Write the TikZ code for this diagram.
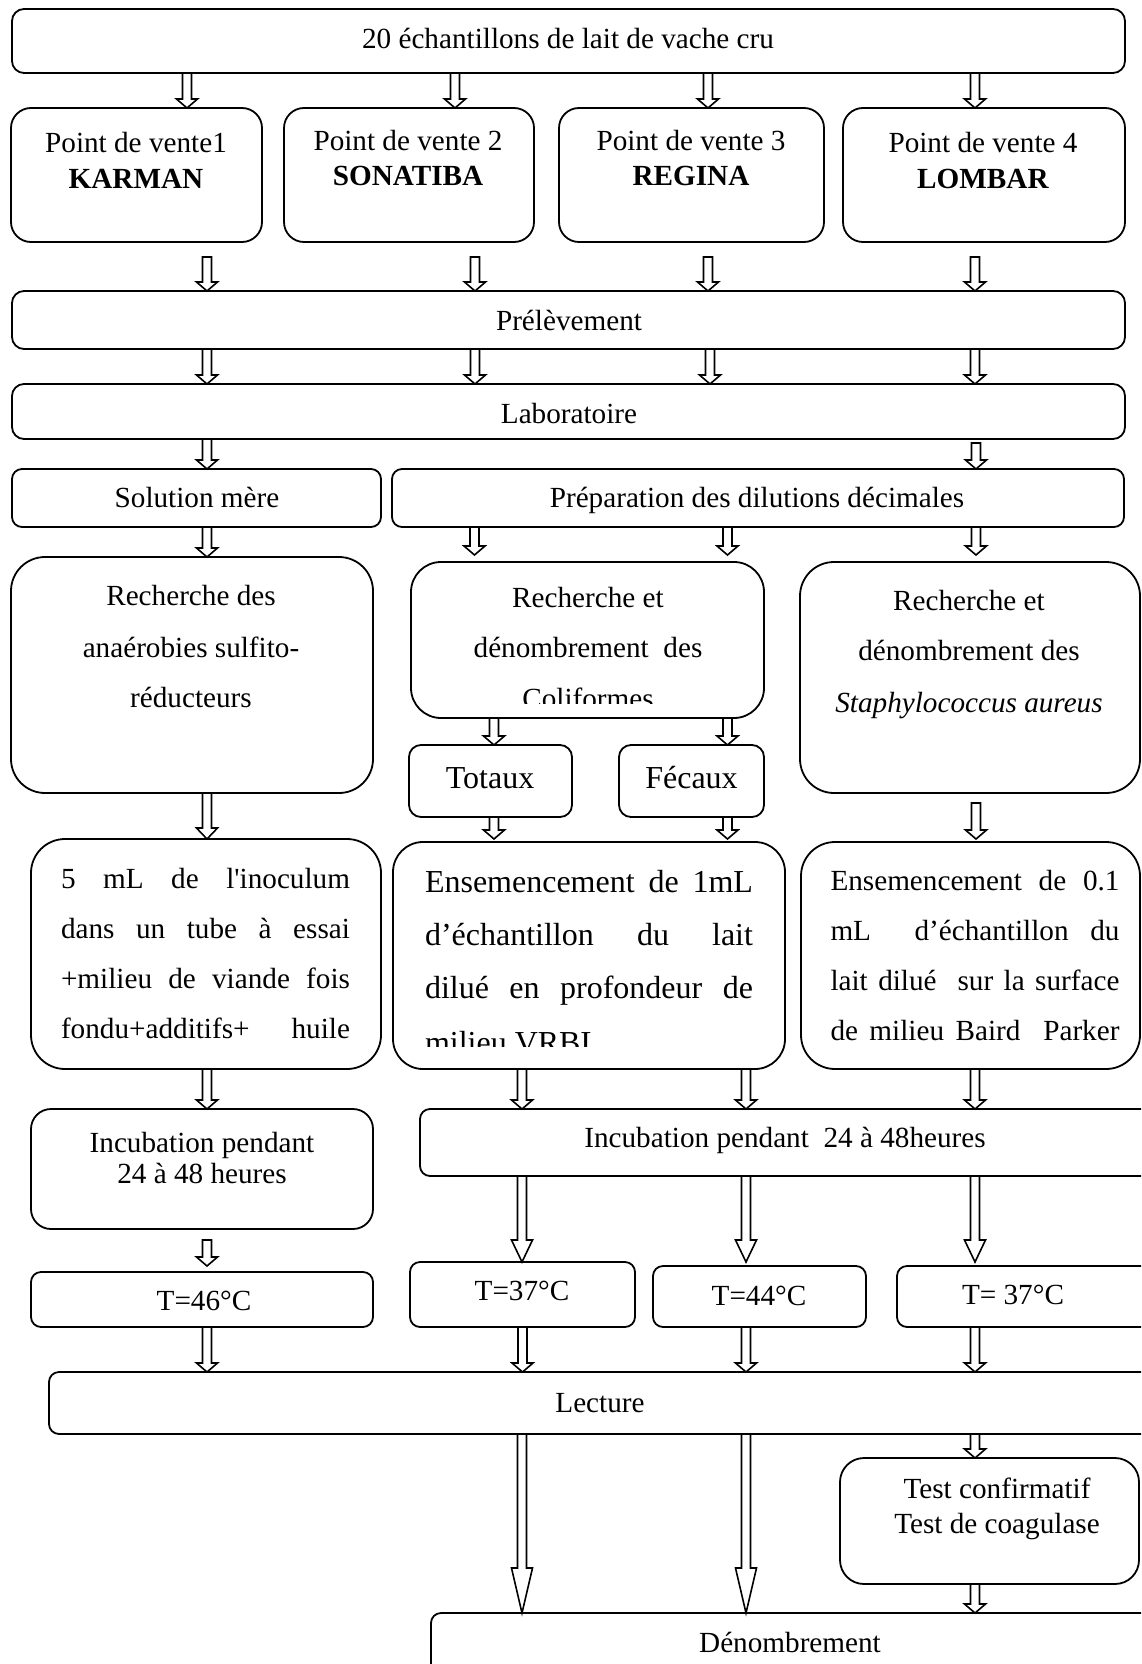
\documentclass[tikz,border=0pt]{standalone}
\usepackage{fontspec}
\setmainfont{Liberation Serif}
\usetikzlibrary{calc}
\tikzset{
  box/.style={draw, line width=0.9pt, inner sep=0pt, outer sep=0pt},
  lbl/.style={anchor=base, inner sep=0pt, outer sep=0pt, font=\fontsize{14.6}{17}\selectfont},
  lblL/.style={anchor=base west, inner sep=0pt, outer sep=0pt, font=\fontsize{14.6}{17}\selectfont},
  big/.style={font=\fontsize{16}{19}\selectfont},
  arr/.style={line width=0.8pt, line join=miter},
}
% box: name, x1, y1, x2, y2 (px), corner radius (pt)
\newcommand{\bx}[6]{\node[box, rounded corners=#6, minimum width={(#4-#2)*0.5pt}, minimum height={(#5-#3)*0.5pt}] (#1) at ({(#2+#4)/2},{(#3+#5)/2}) {};}
% hollow block arrow: from, to, x (px), start gap (px), end gap (px), head length (px)
\newcommand{\flow}[6]{%
  \draw[arr] let \p1=(#1.south -| #3,0), \p2=(#2.north -| #3,0) in
    (\x1-2.25pt,\y1-#4*0.5pt) -- (\x1-2.25pt,\y2+#5*0.5pt+#6*0.5pt) -- (\x1-5.25pt,\y2+#5*0.5pt+#6*0.5pt) -- (\x1,\y2+#5*0.5pt) -- (\x1+5.25pt,\y2+#5*0.5pt+#6*0.5pt) -- (\x1+2.25pt,\y2+#5*0.5pt+#6*0.5pt) -- (\x1+2.25pt,\y1-#4*0.5pt) -- cycle;}
\begin{document}
\begin{tikzpicture}[x=0.5pt,y=-0.5pt]
\useasboundingbox (0,0) rectangle (1141,1664);
\clip (0,0) rectangle (1141,1664);
\fill[white] (0,0) rectangle (1141,1664);
% boxes
\bx{top}{12}{9}{1125}{73}{6pt}
\bx{pdv1}{11}{108}{262}{242}{10pt}
\bx{pdv2}{284}{108}{534}{242}{10pt}
\bx{pdv3}{559}{108}{824}{242}{10pt}
\bx{pdv4}{843}{108}{1125}{242}{10pt}
\bx{prel}{12}{291}{1125}{349}{6pt}
\bx{labo}{12}{384}{1125}{439}{6pt}
\bx{solm}{12}{469}{381}{527}{5pt}
\bx{prep}{392}{469}{1124}{527}{5pt}
\bx{rana}{11}{557}{373}{793}{17pt}
\bx{rcol}{411}{562}{764}{718}{15pt}
\bx{rsta}{800}{562}{1140}{793}{17pt}
\bx{tot}{409}{745}{572}{817}{6pt}
\bx{fec}{619}{745}{764}{817}{6pt}
\bx{ens1}{31}{839}{381}{1069}{17pt}
\bx{ens2}{393}{842}{785}{1069}{15pt}
\bx{ens3}{801}{842}{1140}{1069}{17pt}
\bx{inc1}{31}{1109}{373}{1229}{10pt}
\bx{inc2}{420}{1109}{1170}{1176}{5pt}
\bx{t46}{31}{1272}{373}{1327}{5pt}
\bx{t37}{410}{1262}{635}{1327}{5pt}
\bx{t44}{653}{1266}{866}{1327}{5pt}
\bx{t37b}{897}{1266}{1170}{1327}{5pt}
\bx{lect}{49}{1372}{1170}{1434}{5pt}
\bx{test}{840}{1458}{1139}{1584}{12pt}
\bx{deno}{431}{1613}{1170}{1720}{5pt}
% texts
\node[lbl] (t0) at (568,49) {20 échantillons de lait de vache cru};
\node[lbl] (p1a) at (136,153) {Point de vente1};
\node[lbl] (p1b) at (136,189) {\textbf{KARMAN}};
\node[lbl] (p2a) at (408,151) {Point de vente 2};
\node[lbl] (p2b) at (408,186) {\textbf{SONATIBA}};
\node[lbl] (p3a) at (691,151) {Point de vente 3};
\node[lbl] (p3b) at (691,186) {\textbf{REGINA}};
\node[lbl] (p4a) at (983,153) {Point de vente 4};
\node[lbl] (p4b) at (983,189) {\textbf{LOMBAR}};
\node[lbl] (tprel) at (569,330) {Prélèvement};
\node[lbl] (tlabo) at (569,423) {Laboratoire};
\node[lbl] (tsolm) at (197,507) {Solution mère};
\node[lbl] (tprep) at (757,507) {Préparation des dilutions décimales};
\node[lbl] (ra1) at (191,605) {Recherche des};
\node[lbl] (ra2) at (191,657) {anaérobies sulfito-};
\node[lbl] (ra3) at (191,707) {réducteurs};
\node[lbl] (rc1) at (588,607) {Recherche et};
\node[lbl] (rc2) at (588,657) {dénombrement~ des};
\begin{scope}
\clip (411,562) rectangle (764,703);
\node[lbl] (rc3) at (588,708) {Coliformes};
\end{scope}
\node[lbl] (rs1) at (969,610) {Recherche et};
\node[lbl] (rs2) at (969,660) {dénombrement des};
\node[lbl] (rs3) at (969,712) {\textit{Staphylococcus aureus}};
\node[lbl,big] (ttot) at (490,788) {Totaux};
\node[lbl,big] (tfec) at (691.5,788) {Fécaux};
\node[lblL] (e1a) at (61,888) {\makebox[144.5pt][s]{5 mL de l\textquotesingle inoculum}};
\node[lblL] (e1b) at (61,938) {\makebox[144.5pt][s]{dans un tube à essai}};
\node[lblL] (e1c) at (61,988) {\makebox[144.5pt][s]{+milieu de viande fois}};
\node[lblL] (e1d) at (61,1038) {\makebox[144.5pt][s]{fondu+additifs+ huile}};
\node[lblL,big] (e2a) at (425,892) {\makebox[164pt][s]{Ensemencement de 1mL}};
\node[lblL,big] (e2b) at (425,945) {\makebox[164pt][s]{d’échantillon du lait}};
\node[lblL,big] (e2c) at (425,998) {\makebox[164pt][s]{dilué en profondeur de}};
\begin{scope}
\clip (393,842) rectangle (785,1046);
\node[lblL,big] (e2d) at (425,1053) {milieu VRBL};
\end{scope}
\node[lblL] (e3a) at (830.5,890) {\makebox[144.5pt][s]{Ensemencement de 0.1}};
\node[lblL] (e3b) at (830.5,940) {\makebox[144.5pt][s]{mL \ d’échantillon du}};
\node[lblL] (e3c) at (830.5,990) {\makebox[144.5pt][s]{lait dilué \ sur la surface}};
\node[lblL] (e3d) at (830.5,1040) {\makebox[144.5pt][s]{de milieu Baird \ Parker}};
\node[lbl] (ti1a) at (202,1152) {Incubation pendant};
\node[lbl] (ti1b) at (202,1183) {24 à 48 heures};
\node[lbl] (ti2) at (785,1147) {Incubation pendant~ 24 à 48heures};
\node[lbl] (tt46) at (204,1310) {T=46°C};
\node[lbl] (tt37) at (522,1300) {T=37°C};
\node[lbl] (tt44) at (759,1305) {T=44°C};
\node[lbl] (tt37b) at (1013,1304) {T= 37°C};
\node[lbl] (tlect) at (600,1412) {Lecture};
\node[lbl] (ttesta) at (997,1498) {Test confirmatif};
\node[lbl] (ttestb) at (997,1533) {Test de coagulase};
\node[lbl] (tdeno) at (790,1652) {Dénombrement};
% arrows
\flow{top}{pdv1}{187}{0}{0}{9}
\flow{top}{pdv2}{455}{0}{0}{9}
\flow{top}{pdv3}{708}{0}{0}{9}
\flow{top}{pdv4}{975}{0}{0}{9}
\flow{pdv1}{prel}{207}{15}{0}{9}
\flow{pdv2}{prel}{475}{15}{0}{9}
\flow{pdv3}{prel}{708}{15}{0}{9}
\flow{pdv4}{prel}{975}{15}{0}{9}
\flow{prel}{labo}{207}{0}{0}{9}
\flow{prel}{labo}{475}{0}{0}{9}
\flow{prel}{labo}{710}{0}{0}{9}
\flow{prel}{labo}{975}{0}{0}{9}
\flow{labo}{solm}{207}{0}{0}{9}
\flow{labo}{prep}{976}{4}{0}{9}
\flow{solm}{rana}{207}{0}{0}{9}
\flow{prep}{rcol}{474.5}{0}{7}{9}
\flow{prep}{rcol}{727.5}{0}{7}{9}
\flow{prep}{rsta}{976}{0}{7}{9}
\flow{rcol}{tot}{494}{0}{0}{9}
\flow{rcol}{fec}{727.5}{0}{0}{9}
\flow{tot}{ens2}{494}{0}{3}{9}
\flow{fec}{ens2}{727.5}{0}{3}{9}
\flow{rana}{ens1}{207}{0}{0}{11}
\flow{rsta}{ens3}{976}{10}{3}{9}
\flow{ens1}{inc1}{207}{0}{0}{9}
\flow{ens2}{inc2}{522}{0}{0}{9}
\flow{ens2}{inc2}{746}{0}{0}{9}
\flow{ens3}{inc2}{975}{0}{0}{9}
\flow{inc1}{t46}{207}{11}{6}{9}
\flow{inc2}{t37}{522}{0}{0}{22}
\flow{inc2}{t44}{746}{0}{4}{22}
\flow{inc2}{t37b}{975}{0}{4}{22}
\flow{t46}{lect}{207}{0}{0}{9}
\flow{t37}{lect}{522.5}{0}{0}{9}
\flow{t44}{lect}{746}{0}{0}{9}
\flow{t37b}{lect}{975}{0}{0}{9}
\flow{lect}{deno}{522}{0}{0}{45}
\flow{lect}{deno}{746}{0}{0}{45}
\flow{lect}{test}{975}{0}{0}{9}
\flow{test}{deno}{975}{0}{0}{9}
\end{tikzpicture}
\end{document}
